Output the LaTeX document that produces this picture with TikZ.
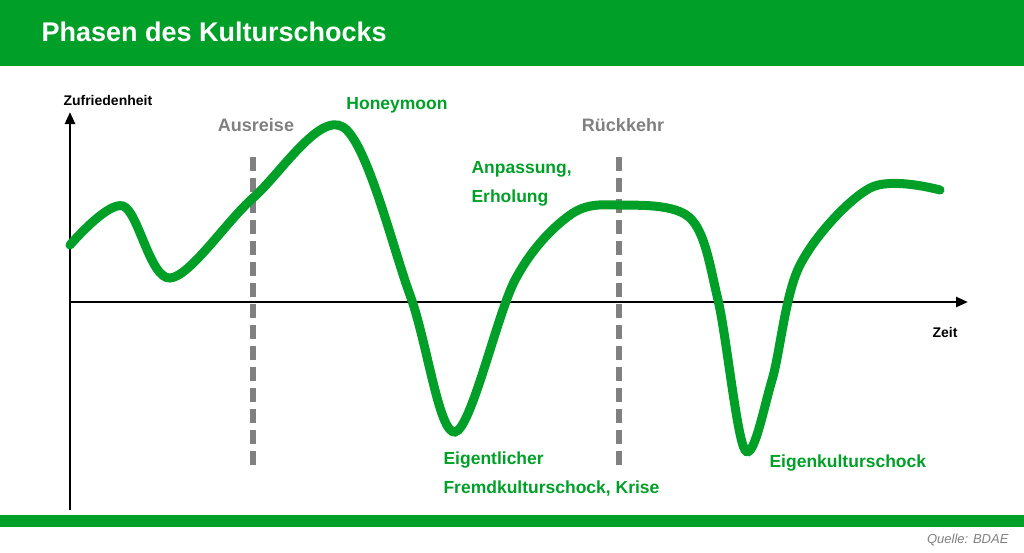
\documentclass[tikz,border=0pt]{standalone}
\usepackage{fontspec}
\setmainfont{Liberation Sans}
\usetikzlibrary{arrows.meta}
\definecolor{bdaegreen}{RGB}{0,160,40}
\definecolor{bdaegrey}{RGB}{128,128,128}
\tikzset{
  phase/.style={text=bdaegreen,font=\bfseries\fontsize{17.5}{29}\selectfont,align=left},
  marker/.style={text=bdaegrey,font=\bfseries\fontsize{18}{22}\selectfont},
  axislabel/.style={font=\bfseries\fontsize{14}{16}\selectfont}
}
\begin{document}
\begin{tikzpicture}[x=1pt,y=-1pt]
\useasboundingbox (0,0) rectangle (1024,552);
% bands
\fill[bdaegreen] (0,0) rectangle (1024,66);
\fill[bdaegreen] (0,515) rectangle (1024,527);
\node[anchor=west,text=white,font=\bfseries\fontsize{27}{31}\selectfont] (title) at (38,32) {Phasen des Kulturschocks};
\node[anchor=east,text=bdaegrey,font=\itshape\fontsize{13}{15}\selectfont] (src) at (1012,540) {Quelle: BDAE};
% axes
\coordinate (o) at (70,302);
\coordinate (ytop) at (70,112);
\coordinate (ybot) at (70,510);
\coordinate (xend) at (968,302);
\draw[line width=2.5pt,-{Triangle[length=12pt,width=10pt]}] (ybot) -- (ytop);
\draw[line width=2.5pt,-{Triangle[length=12pt,width=10pt]}] (o) -- (xend);
\node[axislabel,anchor=west] (ylab) at (60,100) {Zufriedenheit};
\node[axislabel] (xlab) at (945,332) {Zeit};
% phase markers
\coordinate (a1) at (253,157); \coordinate (a2) at (253,467);
\coordinate (r1) at (619,157); \coordinate (r2) at (619,467);
\draw[bdaegrey,line width=6pt,dash pattern=on 14pt off 7pt] (a1) -- (a2);
\draw[bdaegrey,line width=6pt,dash pattern=on 14pt off 7pt] (r1) -- (r2);
\node[marker] (aus) at (256,125) {Ausreise};
\node[marker] (rueck) at (623,125) {Rückkehr};
% curve
\draw[bdaegreen,line width=9pt,line cap=round] plot[smooth,tension=0.55] coordinates {
 (70,245) (123,206) (170,278) (253,198) (343,127) (410,295) (455,432)
 (515,280) (570,215) (619,205) (690,218) (718,300) (745,450) (772,380)
 (800,265) (870,188) (940,190)};
% labels
\node[phase] (honey) at (397,105) {Honeymoon};
\node[phase,anchor=north west] (anp) at (468,158) {Anpassung,\\Erholung};
\node[phase,anchor=north west] (fremd) at (440,448) {Eigentlicher\\Fremdkulturschock, Krise};
\node[phase,anchor=west] (eigen) at (766,463) {Eigenkulturschock};
\end{tikzpicture}
\end{document}
